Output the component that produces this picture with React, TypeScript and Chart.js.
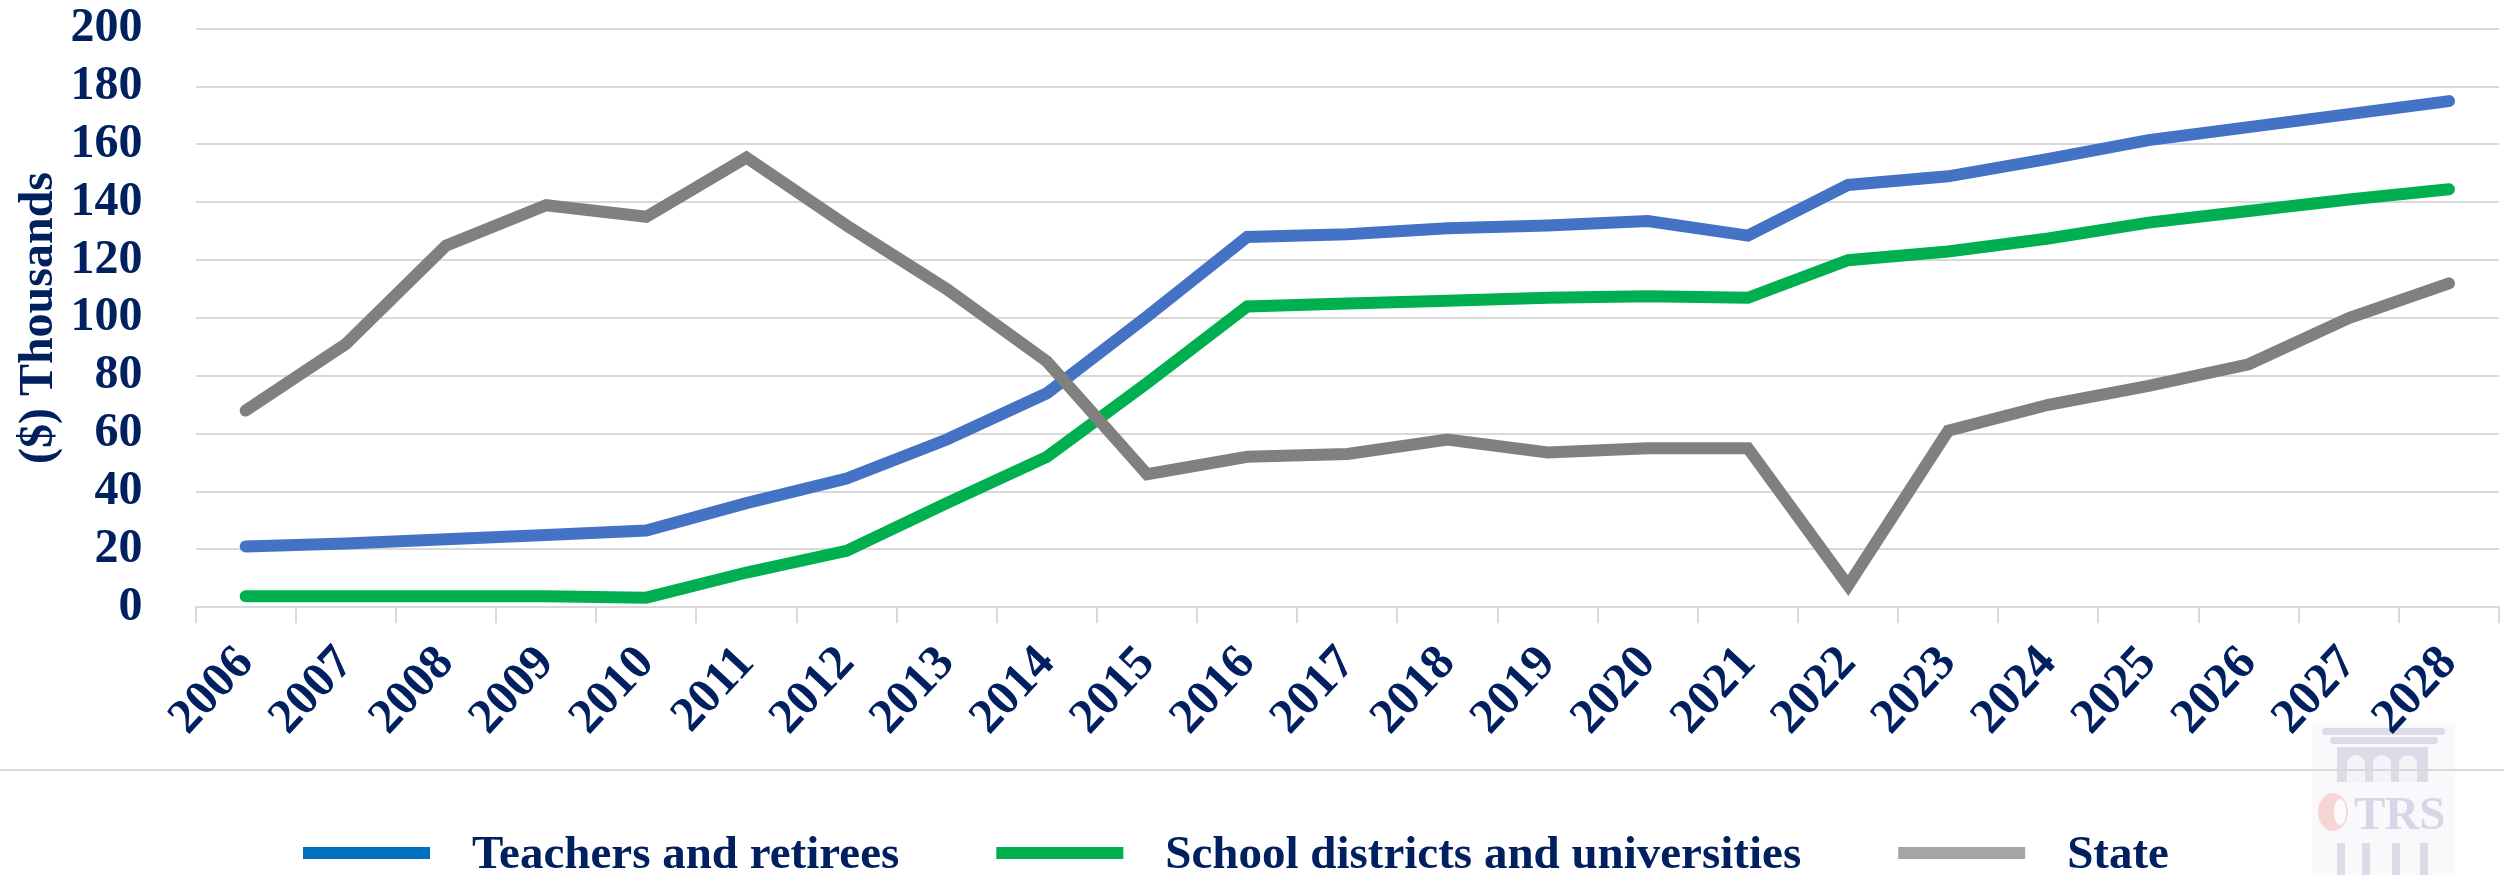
import React, { useEffect, useRef } from "react";
import { Chart, registerables } from "chart.js";

Chart.register(...registerables);

const years = ["2006", "2007", "2008", "2009", "2010", "2011", "2012", "2013", "2014", "2015", "2016", "2017", "2018", "2019", "2020", "2021", "2022", "2023", "2024", "2025", "2026", "2027", "2028"];
const teachersAndRetirees = [21, 22, 23.5, 25, 26.5, 36, 44.5, 58, 74, 100.5, 128, 129, 131, 132, 133.5, 128.5, 146, 149, 155, 161.5, 166, 170.5, 175];
const schoolDistricts = [3.8, 3.8, 3.8, 3.8, 3.3, 12, 19.5, 36, 52, 77.5, 104, 105, 106, 107, 107.5, 107, 120, 123, 127.5, 133, 137, 141, 144.5];
const stateValues = [68, 91, 125, 139, 135, 155.5, 132, 110, 85, 46, 52, 53, 58, 53.5, 55, 55, 7.5, 61, 70, 76.5, 84, 100, 112];
const seriesNames = ["Teachers and retirees", "School districts and universities", "State"];
const lineColors = ["#4472C4", "#00B050", "#808080"];
const legendColors = ["#0070C0", "#00B050", "#A5A5A5"];
const yAxisTitle = "($) Thousands";
const yMin = 0;
const yMax = 200;
const yStep = 20;

const FONT = "'Liberation Serif', 'Times New Roman', serif";
const NAVY = "#002060";
const GRID = "#d9d9d9";

const watermarkPlugin = {
  id: "watermark",
  beforeDraw(chart: any) {
    const ctx = chart.ctx as CanvasRenderingContext2D;
    const W = chart.width;
    ctx.save();
    ctx.fillStyle = "rgba(245,245,250,0.6)";
    ctx.fillRect(2312, 723, 143, 152);
    ctx.fillStyle = "#dcdce9";
    const rr = (x: number, y: number, w: number, h: number, r: number) => {
      ctx.beginPath();
      ctx.moveTo(x + r, y);
      ctx.arcTo(x + w, y, x + w, y + h, r);
      ctx.arcTo(x + w, y + h, x, y + h, r);
      ctx.arcTo(x, y + h, x, y, r);
      ctx.arcTo(x, y, x + w, y, r);
      ctx.closePath();
      ctx.fill();
    };
    rr(2322, 728, 123, 7, 3.5);
    rr(2330, 737, 108, 7, 3.5);
    ctx.fillRect(2337, 747, 91, 35);
    ctx.fillStyle = "#f4f4f8";
    [2356, 2382, 2408].forEach((cx) => {
      ctx.beginPath();
      ctx.arc(cx, 764, 9, Math.PI, 0);
      ctx.lineTo(cx + 9, 782);
      ctx.lineTo(cx - 9, 782);
      ctx.closePath();
      ctx.fill();
    });
    ctx.fillStyle = "#dcdce9";
    [2337, 2362, 2392, 2420].forEach((x) => ctx.fillRect(x, 843, 8, 32));
    ctx.fillStyle = "#f6d6d4";
    ctx.beginPath();
    ctx.ellipse(2333, 812, 15, 19, 0, 0, Math.PI * 2);
    ctx.fill();
    ctx.fillStyle = "#fbfbfd";
    ctx.beginPath();
    ctx.ellipse(2340, 812, 6, 13, 0, 0, Math.PI * 2);
    ctx.fill();
    ctx.fillStyle = "#d6d6e6";
    ctx.font = `bold 47px ${FONT}`;
    ctx.textBaseline = "alphabetic";
    ctx.textAlign = "left";
    ctx.fillText("TRS", 2354, 829);
    ctx.strokeStyle = GRID;
    ctx.lineWidth = 2;
    ctx.beginPath();
    ctx.moveTo(0, 770);
    ctx.lineTo(W, 770);
    ctx.stroke();
    ctx.restore();
  },
};

const customLegendPlugin = {
  id: "customLegend",
  afterDraw(chart: any) {
    const ctx = chart.ctx as CanvasRenderingContext2D;
    ctx.save();
    ctx.font = `bold 47px ${FONT}`;
    const boxW = 127;
    const boxH = 12;
    const gapBoxText = 42;
    const gapItems = 97;
    const widths = seriesNames.map((n) => ctx.measureText(n).width);
    const total = widths.reduce((a, w) => a + boxW + gapBoxText + w, 0) + gapItems * (seriesNames.length - 1);
    const centerX = 1236;
    let x = centerX - total / 2;
    const cy = 853;
    seriesNames.forEach((name, i) => {
      ctx.fillStyle = legendColors[i];
      ctx.fillRect(x, cy - boxH / 2, boxW, boxH);
      x += boxW + gapBoxText;
      ctx.fillStyle = NAVY;
      ctx.textBaseline = "alphabetic";
      ctx.textAlign = "left";
      ctx.fillText(name, x, cy + 15);
      x += widths[i] + gapItems;
    });
    ctx.restore();
  },
};

export default function App() {
  const canvasRef = useRef<HTMLCanvasElement | null>(null);

  useEffect(() => {
    document.body.style.margin = "0";
    const canvas = canvasRef.current;
    if (!canvas) return;
    const tickFont = { family: FONT, size: 48, weight: "bold" as const };
    const xTickFont = { family: FONT, size: 49, weight: "bold" as const };
    const chart = new Chart(canvas, {
      type: "line",
      data: {
        labels: years,
        datasets: [
          { label: seriesNames[0], data: teachersAndRetirees, borderColor: lineColors[0], backgroundColor: lineColors[0], order: 2 },
          { label: seriesNames[1], data: schoolDistricts, borderColor: lineColors[1], backgroundColor: lineColors[1], order: 1 },
          { label: seriesNames[2], data: stateValues, borderColor: lineColors[2], backgroundColor: lineColors[2], order: 0 },
        ],
      },
      options: {
        responsive: false,
        animation: false,
        devicePixelRatio: 1,
        layout: { padding: { left: 11, right: 0, top: 0, bottom: 116 } },
        elements: {
          point: { radius: 0, hoverRadius: 0 },
          line: { borderWidth: 12, tension: 0, borderCapStyle: "round", borderJoinStyle: "miter" },
        },
        plugins: {
          legend: { display: false },
          tooltip: { enabled: false },
        },
        scales: {
          x: {
            type: "category",
            offset: true,
            grid: { display: true, drawOnChartArea: false, drawTicks: true, tickLength: 16, color: GRID, lineWidth: 2, offset: true },
            border: { display: true, color: GRID, width: 2 },
            ticks: { color: NAVY, font: xTickFont, minRotation: 47, maxRotation: 47, padding: 12, autoSkip: false },
          },
          y: {
            min: yMin,
            max: yMax,
            ticks: { stepSize: yStep, color: NAVY, font: tickFont, padding: 0, autoSkip: false },
            grid: { color: GRID, lineWidth: 2, drawTicks: true, tickLength: 53, tickColor: "rgba(0,0,0,0)" },
            border: { display: false },
            title: { display: true, text: yAxisTitle, color: NAVY, font: tickFont, padding: { top: 0, bottom: 2 } },
          },
        },
      },
      plugins: [watermarkPlugin, customLegendPlugin],
    });
    return () => chart.destroy();
  }, []);

  return (
    <div style={{ width: 2504, height: 875, background: "#fff" }}>
      <canvas ref={canvasRef} width={2504} height={875} style={{ display: "block" }} />
    </div>
  );
}
